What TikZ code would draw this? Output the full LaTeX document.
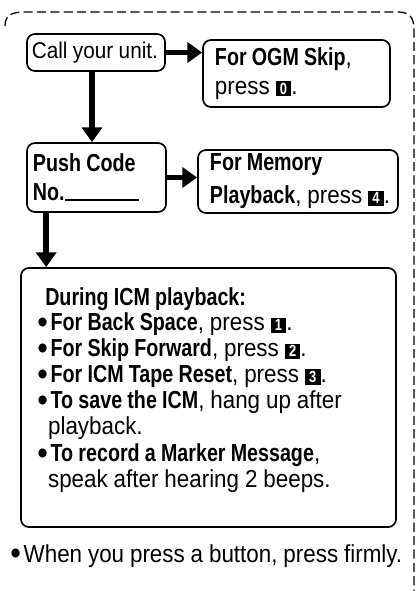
\documentclass[tikz,border=0pt]{standalone}
\usepackage{fontspec}
\setmainfont{Liberation Sans}[FakeStretch=0.91, WordSpace=0.95, BoldFeatures={FakeStretch=0.8}]
\usetikzlibrary{arrows.meta}
\newcommand{\key}[1]{{\setlength{\fboxsep}{1.4pt}\colorbox{black}{\makebox[8.3pt]{\textcolor{white}{\fontsize{11.5}{11.5}\selectfont\textbf{#1}}}}}}
\newcommand{\blt}{\raisebox{-0.2ex}{\scalebox{1.35}{\textbullet}}\kern2pt}
\tikzset{every node/.style={font=\fontsize{17.5}{21.5}\selectfont, inner sep=0pt},
  box/.style={draw, line width=1.2pt, rounded corners=0.2cm, align=flush left},
  flow/.style={line width=4.2pt, -{Triangle[length=0.37cm,width=0.5cm]}},
  frame/.style={line width=0.9pt, dash pattern=on 6.5pt off 3pt}}

\begin{document}
\begin{tikzpicture}[x=0.025cm,y=-0.025cm]
  \useasboundingbox (0,0) rectangle (416,591);
  \draw[frame] (5,26) .. controls (5,15) and (12,12) .. (25,12) -- (398,12)
     .. controls (410,12) and (414,18) .. (414,30) -- (414,591);

  \node[box, text width=3.21cm, inner xsep=0.12cm, minimum height=0.925cm, font=\fontsize{16.2}{20}\selectfont] (call) at (96,52.5) {\mbox{Call your unit.}};
  \node[box, text width=4.075cm, inner xsep=0.3cm, minimum height=1.675cm] (ogm) at (296.5,73.5) {\mbox{\textbf{For OGM Skip},}\\[-1pt] press \key{0}.};
  \node[box, text width=3.175cm, inner xsep=0.15cm, minimum height=1.725cm] (push) at (96.5,177.5) {\mbox{\textbf{Push Code}}\\[-1pt] \textbf{No.}\rule{1.85cm}{0.9pt}};
  \node[box, text width=4.4cm, inner xsep=0.3cm, minimum height=1.575cm] (mem) at (298,181.5) {\mbox{\textbf{For Memory}}\\[2pt] \mbox{\textbf{Playback}, press \key{4}.}};
  \node[box, minimum width=9.375cm, minimum height=6.475cm] (icm) at (208.5,397.5) {};
  \node[anchor=north west, align=flush left, font=\fontsize{17.5}{18.4}\selectfont] (icmlist) at (37,287) {%
    \hspace*{0.2cm}\textbf{During ICM playback:}\\
    \blt\textbf{For Back Space}, press \key{1}.\\
    \blt\textbf{For Skip Forward}, press \key{2}.\\
    \blt\textbf{For ICM Tape Reset}, press \key{3}.\\
    \blt\textbf{To save the ICM}, hang up after\\
    \hspace*{0.27cm}playback.\\[1pt]
    \blt\textbf{To record a Marker Message},\\
    \hspace*{0.27cm}speak after hearing 2 beeps.};
  \node[anchor=west] (note) at (10,556) {\blt When you press a button, press firmly.};

  \draw[flow] (call.east) -- (call.east -| ogm.west);
  \draw[flow] ([xshift=-0.1cm]call.south) -- ([xshift=-0.1cm]call.south |- push.north);
  \draw[flow] (push.east) -- (push.east -| mem.west);
  \draw[flow] ([xshift=0.5cm]push.south west) -- ([xshift=0.5cm]push.south west |- icm.north);
\end{tikzpicture}
\end{document}
